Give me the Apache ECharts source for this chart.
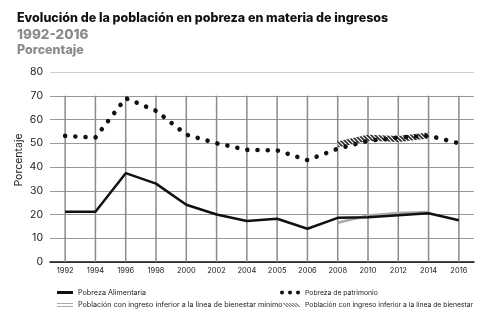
<!DOCTYPE html>
<html>
<head>
<meta charset="utf-8">
<script src="https://cdn.jsdelivr.net/npm/echarts@6/dist/echarts.min.js"></script>
<style>
html,body{margin:0;padding:0;background:#fff;}
#main{width:500px;height:322px;}
</style>
</head>
<body>
<div id="main"></div>
<script>
var years = ['1992','1994','1996','1998','2000','2002','2004','2005','2006','2008','2010','2012','2014','2016'];
var alimentaria = [21.2, 21.2, 37.4, 33.0, 24.1, 20.0, 17.3, 18.2, 14.0, 18.6, 18.8, 19.7, 20.5, 17.6];
var patrimonio = [53.1, 52.4, 69.0, 63.7, 53.6, 50.0, 47.2, 47.0, 42.9, 47.7, 51.0, 52.4, 53.2, 50.0];
var bienestarMinimo = [null, null, null, null, null, null, null, null, null, 16.5, 19.6, 20.6, 21.1, null];
var bienestar = [null, null, null, null, null, null, null, null, null, 49.5, 52.3, 51.8, 53.3, null];
var yTicks = [0, 10, 20, 30, 40, 50, 60, 70, 80];
var vGridTop = 70; // vertical grid lines run from 0 up to 70

var FONT = 'Inter, Roboto, sans-serif';

// hatched pattern
var pc = document.createElement('canvas');
pc.width = 4; pc.height = 4;
var g = pc.getContext('2d');
g.fillStyle = '#ffffff'; g.fillRect(0, 0, 4, 4);
g.strokeStyle = '#2a2a2a'; g.lineWidth = 1.6;
g.beginPath();
g.moveTo(-1, -1); g.lineTo(5, 5);
g.moveTo(-1, 3); g.lineTo(1, 5);
g.moveTo(3, -1); g.lineTo(5, 1);
g.stroke();
var hatch = {image: pc, repeat: 'repeat'};

var names = {
  a: 'Pobreza Alimentaria',
  p: 'Pobreza de patrimonio',
  m: 'Población con ingreso inferior a la línea de bienestar mínimo',
  b: 'Población con ingreso inferior a la línea de bienestar'
};

function leg(name, left, top, icon, w, h, color, fs) {
  return {
    data: [{name: name, icon: icon, itemStyle: {color: color, borderWidth: 0}}],
    left: left, top: top, padding: 0, itemWidth: w, itemHeight: h,
    textStyle: {fontFamily: FONT, fontSize: fs, color: '#222'}, selectedMode: false
  };
}
var dotsIcon = 'path://M0,2A2,2,0,1,1,4,2A2,2,0,1,1,0,2Z M8,2A2,2,0,1,1,12,2A2,2,0,1,1,8,2Z M16,2A2,2,0,1,1,20,2A2,2,0,1,1,16,2Z';
var dblIcon = 'path://M0,0H16V1H0Z M0,3H16V4H0Z';
var hatchIcon = 'path://M0,0L1,0L5,4L4,4Z M3,0L4,0L8,4L7,4Z M6,0L7,0L11,4L10,4Z M9,0L10,0L14,4L13,4Z M12,0L13,0L17,4L16,4Z';
var lineIcon = 'path://M0,0H16V3H0Z';

var chart = echarts.init(document.getElementById('main'), null, {renderer: 'canvas'});
chart.setOption({
  animation: false,
  title: [
    {text: 'Evolución de la población en pobreza en materia de ingresos', left: 12, top: 7,
     textStyle: {fontFamily: FONT, fontSize: 12.5, fontWeight: 800, color: '#111'}},
    {text: '1992-2016', left: 12, top: 23,
     textStyle: {fontFamily: FONT, fontSize: 13.5, fontWeight: 800, color: '#8a8a8a'}},
    {text: 'Porcentaje', left: 12, top: 39,
     textStyle: {fontFamily: FONT, fontSize: 12.5, fontWeight: 800, color: '#8a8a8a'}}
  ],
  legend: [
    leg(names.a, 57, 289, lineIcon, 16, 3, '#111', 7.2),
    leg(names.m, 57, 301.5, dblIcon, 16, 4, '#aaa', 7.2),
    leg(names.p, 280, 289, dotsIcon, 20, 4, '#111', 6.8),
    leg(names.b, 283, 301.5, hatchIcon, 17, 4, '#333', 6.8)
  ],
  grid: {left: 50, right: 26, top: 72, bottom: 60},
  xAxis: {
    type: 'category', data: years, boundaryGap: true,
    axisLine: {lineStyle: {color: '#111', width: 1.5}},
    axisTick: {show: false},
    axisLabel: {fontFamily: FONT, fontSize: 7.5, color: '#222', margin: 5, interval: 0},
    splitLine: {show: false}
  },
  yAxis: {
    type: 'value', min: 0, max: 80, interval: 10,
    axisLine: {show: false}, axisTick: {show: false},
    axisLabel: {fontFamily: FONT, fontSize: 10.5, color: '#222', margin: 7},
    splitLine: {show: true, lineStyle: {width: 1, color: ['#999','#999','#999','#999','#999','#999','#999','#999','#cfcfcf']}}
  },
  graphic: [
    {type: 'text', x: 19, y: 160, rotation: Math.PI / 2,
     style: {text: 'Porcentaje', fontFamily: FONT, fontSize: 10.5, fill: '#222', align: 'center', verticalAlign: 'middle'}}
  ],
  series: [
    {name: 'vgrid', type: 'bar', data: years.map(function () { return vGridTop; }),
     barWidth: 1.5, silent: true, z: 2, itemStyle: {color: '#8a8a8a', opacity: 1}, emphasis: {disabled: true}},
    {name: names.m, type: 'line', data: bienestarMinimo, symbol: 'none', z: 3,
     lineStyle: {color: '#aaa', width: 2.5}},
    {name: names.a, type: 'line', data: alimentaria, symbol: 'none', z: 4,
     lineStyle: {color: '#111', width: 2.5, join: 'round'}},
    {name: names.b, type: 'line', data: bienestar, symbol: 'none', z: 5,
     lineStyle: {color: hatch, width: 6}},
    {name: names.p, type: 'line', data: patrimonio, symbol: 'none', z: 6,
     lineStyle: {color: '#111', width: 4.6, type: [0.01, 10.2], cap: 'round'}}
  ]
});
</script>
</body>
</html>
